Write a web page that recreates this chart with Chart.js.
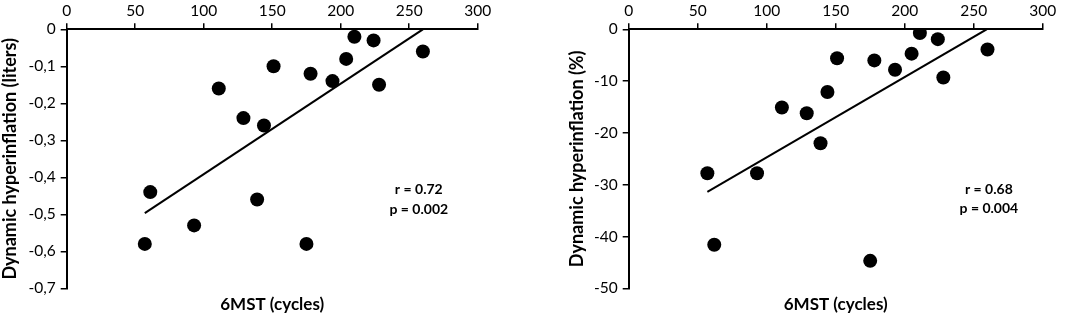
<!DOCTYPE html>
<html>
<head>
<meta charset="utf-8">
<script src="https://cdn.jsdelivr.net/npm/chart.js@4.4.1/dist/chart.umd.min.js"></script>
<style>
  html, body { margin: 0; padding: 0; background: #fff; }
  body { width: 1065px; height: 315px; position: relative; overflow: hidden; }
  .box { position: absolute; top: 0; height: 315px; }
  #b1 { left: 0; width: 530px; }
  #b2 { left: 535px; width: 530px; }
</style>
</head>
<body>
<div class="box" id="b1"><canvas id="c1"></canvas></div>
<div class="box" id="b2"><canvas id="c2"></canvas></div>
<script>
// ---- Data ----
const cycles = [210, 224, 260, 204, 151, 178, 194, 228, 111, 129, 144, 61, 139, 93, 57, 175];
const dhLiters = [-0.02, -0.03, -0.06, -0.08, -0.10, -0.12, -0.14, -0.15, -0.16, -0.24, -0.26, -0.44, -0.46, -0.53, -0.58, -0.58];
const cyclesPct = [211, 224, 260, 205, 151, 178, 193, 228, 144, 111, 129, 139, 57, 93, 62, 175];
const dhPercent = [-0.7, -1.9, -3.9, -4.7, -5.6, -6.0, -7.8, -9.3, -12.1, -15.1, -16.2, -22.0, -27.8, -27.8, -41.6, -44.7];
const trendX1 = [57, 260];
const trendY1 = [-0.497, 0];
const trendX2 = [57, 259.4];
const trendY2 = [-31.4, 0];
const xTicks = [0, 50, 100, 150, 200, 250, 300];
const statsLeft = ['r = 0.72', 'p = 0.002'];
const statsRight = ['r = 0.68', 'p = 0.004'];
const xTitle = '6MST (cycles)';
const yTitleLeft = 'Dynamic hyperinflation (liters)';
const yTitleRight = 'Dynamic hyperinflation (%)';

const FONT = 'Lato, "Liberation Sans", sans-serif';
Chart.defaults.font.family = FONT;
Chart.defaults.color = '#000';

const statsPlugin = {
  id: 'stats',
  afterDatasetsDraw(chart, args, opts) {
    const {ctx, scales} = chart;
    ctx.save();
    ctx.fillStyle = '#000';
    ctx.font = 'bold 14px ' + FONT;
    ctx.textAlign = 'center';
    ctx.textBaseline = 'middle';
    opts.lines.forEach((t, i) => {
      ctx.fillText(t, scales.x.getPixelForValue(opts.x), scales.y.getPixelForValue(opts.y[i]));
    });
    ctx.restore();
  }
};

function makeChart(id, xs, ys, tx, ty, yMin, yStep, yFmt, yTitle, yAxisW, yTitlePad, rightPad, stats) {
  const pts = xs.map((x, i) => ({x, y: ys[i]}));
  const line = tx.map((x, i) => ({x, y: ty[i]}));
  return new Chart(document.getElementById(id), {
    type: 'scatter',
    data: {
      datasets: [
        {data: pts, pointRadius: 7, pointHoverRadius: 7, backgroundColor: '#000', borderColor: '#000', borderWidth: 0},
        {data: line, showLine: true, pointRadius: 0, borderColor: '#000', borderWidth: 2, fill: false}
      ]
    },
    options: {
      responsive: true,
      maintainAspectRatio: false,
      animation: false,
      events: [],
      layout: {padding: {left: 0, right: rightPad, top: 0, bottom: 0}},
      plugins: {legend: {display: false}, tooltip: {enabled: false}, stats: stats},
      scales: {
        x: {
          type: 'linear', position: 'top', min: 0, max: 300,
          afterBuildTicks: s => { s.ticks = xTicks.map(v => ({value: v})); },
          grid: {drawOnChartArea: false, drawTicks: true, tickLength: 6, color: '#000', lineWidth: 1.5},
          border: {display: true, color: '#000', width: 2},
          ticks: {font: {size: 15.5}, color: '#000', padding: 3, maxRotation: 0},
          afterFit: s => { s.height = 29.3; }
        },
        x2: {
          type: 'linear', position: 'bottom', min: 0, max: 300,
          grid: {display: false, drawTicks: false},
          border: {display: false},
          ticks: {display: false},
          title: {display: true, text: xTitle, font: {size: 17, weight: 'bold'}, color: '#000', padding: {top: 3, bottom: 0}},
          afterFit: s => { s.height = 26.7; }
        },
        y: {
          type: 'linear', position: 'left', min: yMin, max: 0,
          ticks: {stepSize: yStep, font: {size: 15.5}, color: '#000', padding: 5, callback: yFmt},
          grid: {drawOnChartArea: false, drawTicks: true, tickLength: 6, color: '#000', lineWidth: 1.5},
          border: {display: true, color: '#000', width: 2},
          title: {display: true, text: yTitle, font: {size: 18, weight: 'bold'}, color: '#000', padding: {top: yTitlePad, bottom: 0}},
          afterFit: s => { s.width = yAxisW; }
        }
      }
    },
    plugins: [statsPlugin]
  });
}

const fmtComma = v => {
  const r = Math.round(v * 10) / 10;
  return r === 0 ? '0' : r.toFixed(1).replace('.', ',');
};
const fmtInt = v => String(Math.round(v));

makeChart('c1', cycles, dhLiters, trendX1, trendY1, -0.7, 0.1, fmtComma, yTitleLeft, 66.7, -1, 52.3,
  {lines: statsLeft, x: 257, y: [-0.433, -0.486]});
makeChart('c2', cyclesPct, dhPercent, trendX2, trendY2, -50, 10, fmtInt, yTitleRight, 93.7, 31.5, 22.3,
  {lines: statsRight, x: 261, y: [-30.9, -34.6]});
</script>
</body>
</html>
